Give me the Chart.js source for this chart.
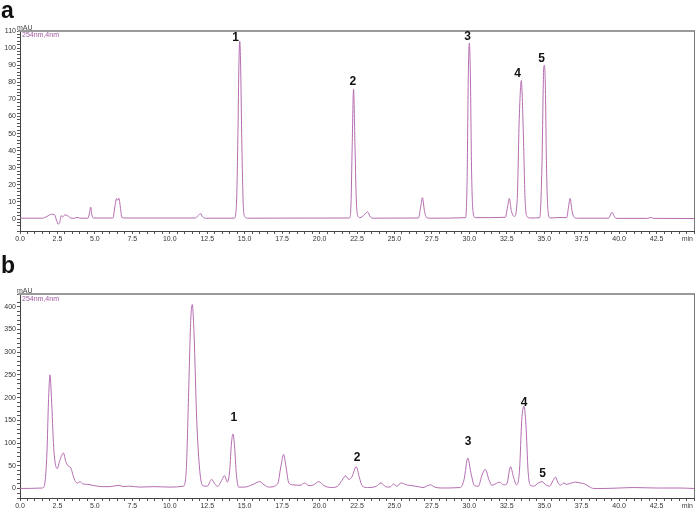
<!DOCTYPE html>
<html lang="en">
<head>
<meta charset="UTF-8">
<title>HPLC chromatograms</title>
<script src="https://cdn.jsdelivr.net/npm/chart.js"></script>
<style>
  body { margin: 0; background: #fff; }
  .panel { position: absolute; left: 0; }
</style>
</head>
<body>
<div class="panel" style="top:0"><canvas id="chartA" width="696" height="250"></canvas></div>
<div class="panel" style="top:250px"><canvas id="chartB" width="696" height="258"></canvas></div>

<script>
// panel a : standards (min, mAU)
const timeA = [0.0, 1.5, 1.8, 2.1, 2.3, 2.45, 2.55, 2.65, 2.75, 2.85, 3.0, 3.2, 3.4, 3.6, 3.8, 4.0,
  4.55, 4.65, 4.72, 4.8, 4.9, 6.2, 6.35, 6.45, 6.52, 6.6, 6.7, 6.8, 7.0,
  11.7, 11.9, 12.05, 12.2, 12.4,
  14.3, 14.45, 14.55, 14.62, 14.67, 14.73, 14.8, 14.9, 15.0, 15.2,
  22.0, 22.1, 22.18, 22.27, 22.36, 22.45, 22.55, 22.7, 23.0, 23.2, 23.4, 23.6,
  26.6, 26.75, 26.87, 27.0, 27.15, 27.4,
  29.75, 29.85, 29.93, 30.0, 30.07, 30.15, 30.25, 30.4,
  32.4, 32.55, 32.67, 32.8, 33.0, 33.2, 33.33, 33.47, 33.6, 33.72, 33.85, 34.1,
  34.7, 34.85, 34.95, 35.0, 35.07, 35.15, 35.25, 35.4, 35.95, 36.5, 36.62, 36.73, 36.85, 37.0, 37.2,
  39.3, 39.45, 39.53, 39.65, 39.8, 41.9, 42.1, 42.3, 45.0];
const absA = [0.5, 0.5, 1.5, 2.8, 2.5, -1, -3, -2, 2, 1.2, 2.5, 1.8, 0.5, 0.4, 1.0, 0.5,
  0.5, 4, 7, 2.5, 0.6, 0.6, 8, 12, 11, 12.2, 7, 1, 0.6,
  0.6, 2, 3.2, 1.2, 0.5,
  0.5, 8, 50, 92, 104, 90, 50, 10, 1.5, 0.5,
  0.6, 9, 43, 76, 45, 12, 2, 0.8, 2.5, 4.2, 1.2, 0.5,
  0.6, 7, 12.5, 5, 0.8, 0.5,
  0.8, 22, 83, 103, 84, 28, 4, 0.8,
  1, 7, 12, 5, 1.5, 12, 58, 81, 52, 12, 1.5, 0.6,
  0.8, 32, 84, 90, 80, 32, 5, 0.6, 0.9, 0.8, 7, 12, 5, 1, 0.5,
  0.5, 3, 4, 2, 0.4, 0.4, 0.9, 0.4, 0.3];

// panel b : sample
const timeB = [0.0, 1.5, 1.65, 1.8, 1.9, 2.0, 2.1, 2.25, 2.4, 2.5, 2.6, 2.75, 2.9, 3.05, 3.2, 3.4, 3.55, 3.7, 3.85, 4.0,
  4.2, 4.5, 5.0, 5.5, 6.0, 6.6, 6.9, 7.3, 8.0, 9.0, 10.0, 10.9,
  11.1, 11.25, 11.4, 11.5, 11.62, 11.8, 12.0, 12.2, 12.5, 12.8, 13.0, 13.2, 13.5, 13.65, 13.85,
  14.0, 14.12, 14.22, 14.32, 14.45, 14.6, 15.0, 15.5, 16.0, 16.3, 16.6,
  17.2, 17.4, 17.6, 17.75, 17.95, 18.2, 18.7, 19.0, 19.3, 19.6, 19.95, 20.3, 20.8,
  21.2, 21.5, 21.75, 21.95, 22.15, 22.45, 22.65, 22.85, 23.2, 23.8, 24.1, 24.4, 24.7, 24.95, 25.15, 25.45,
  25.8, 26.2, 26.6, 26.9, 27.4, 27.7, 28.1, 29.4, 29.65, 29.9, 30.1, 30.35, 30.6, 30.85, 31.07, 31.3, 31.5,
  31.8, 32.0, 32.3, 32.5, 32.75, 32.95, 33.15, 33.35, 33.5, 33.65, 33.78, 33.92, 34.05, 34.3, 34.6, 34.85,
  35.1, 35.35, 35.6, 35.75, 35.9, 36.1, 36.3, 36.5, 36.8, 37.1, 37.4, 37.7, 38.0, 38.3, 39.0, 40.0, 41.0, 42.5, 44.0, 45.0];
const absB = [0, 1, 10, 80, 190, 250, 200, 90, 48, 44, 55, 70, 78, 60, 50, 45, 28, 15, 12, 15,
  10, 9, 6, 4, 4, 7, 4, 5, 3, 4, 3, 5,
  40, 200, 370, 405, 340, 150, 40, 6, 5, 20, 10, 5, 20, 28, 14,
  40, 100, 120, 95, 30, 3, 3, 8, 15, 8, 3,
  10, 45, 75, 50, 12, 8, 7, 12, 6, 8, 15, 6, 2,
  5, 18, 28, 20, 25, 48, 25, 6, 2, 5, 12, 4, 3, 10, 5, 12,
  8, 6, 4, 2, 8, 3, 1, 2, 20, 67, 35, 6, 5, 30, 42, 20, 7,
  11, 14, 8, 10, 48, 25, 8, 40, 150, 181, 140, 40, 8, 5, 12, 15,
  8, 5, 18, 25, 14, 7, 12, 9, 12, 14, 12, 10, 4, 0, 0, 1, 2, 1, 1, 0];

// peak numbers (position of the label, data units)
const peakNames = ['1', '2', '3', '4', '5'];
const labelTimeA = [14.4, 22.22, 29.89, 33.22, 34.82];
const labelAbsA = [106.1, 80.3, 106.7, 85.3, 94.0];
const labelTimeB = [14.27, 22.51, 29.91, 33.65, 34.89];
const labelAbsB = [155.5, 68.7, 102, 189, 31.5];

const FONT = "'Liberation Sans', Arial, sans-serif";
const LINE = '#b46cb0';

// frame, units and annotations drawn on top of the chart
const decor = {
  id: 'decor',
  afterDraw(chart, args, o) {
    const { ctx, chartArea: a, scales } = chart;
    ctx.save();
    ctx.strokeStyle = '#9a9a9a';
    ctx.lineWidth = 2;
    ctx.beginPath(); ctx.moveTo(a.left - 2, a.top); ctx.lineTo(a.right + 1, a.top); ctx.stroke();
    ctx.strokeStyle = '#777';
    ctx.lineWidth = 1;
    ctx.beginPath(); ctx.moveTo(a.right + 0.5, a.top); ctx.lineTo(a.right + 0.5, a.bottom); ctx.stroke();

    ctx.font = '7px ' + FONT;
    ctx.textBaseline = 'middle';
    ctx.fillStyle = '#444';
    ctx.textAlign = 'left';
    ctx.fillText('mAU', 17, a.top - 3);
    ctx.textAlign = 'right';
    ctx.fillText('min', a.right - 1, a.bottom + 8);
    ctx.textAlign = 'left';
    ctx.fillStyle = '#a05aa0';
    ctx.fillText('254nm,4nm', a.left + 2, a.top + o.subY);

    ctx.fillStyle = '#111';
    ctx.font = 'bold 12px ' + FONT;
    ctx.textAlign = 'center';
    o.times.forEach((t, i) => {
      ctx.fillText(peakNames[i], scales.x.getPixelForValue(t), scales.y.getPixelForValue(o.values[i]));
    });

    ctx.font = 'bold 23px ' + FONT;
    ctx.textAlign = 'left';
    ctx.textBaseline = 'alphabetic';
    ctx.fillText(o.letter, 1, o.letterY);
    ctx.restore();
  }
};

function makeChart(id, times, values, cfg) {
  const ctx = document.getElementById(id).getContext('2d');
  return new Chart(ctx, {
    type: 'line',
    data: {
      datasets: [{
        data: times.map((t, i) => ({ x: t, y: values[i] })),
        borderColor: LINE,
        borderWidth: 1,
        pointRadius: 0,
        cubicInterpolationMode: 'monotone',
        fill: false
      }]
    },
    options: {
      responsive: false,
      animation: false,
      events: [],
      layout: { padding: { top: cfg.top, right: 2, left: 0, bottom: 0 } },
      plugins: {
        legend: { display: false },
        tooltip: { enabled: false },
        decor: cfg.decor
      },
      scales: {
        x: {
          type: 'linear',
          min: 0, max: 45,
          afterFit: s => { s.height = cfg.xHeight; },
          border: { color: '#444', width: 1 },
          grid: { drawOnChartArea: false, tickLength: 3, color: '#555' },
          ticks: {
            stepSize: 0.5,
            autoSkip: false,
            maxRotation: 0,
            padding: 1,
            color: '#333',
            font: { family: FONT, size: 7 },
            callback: v => {
              const k = v / 2.5;
              return (Math.abs(k - Math.round(k)) < 1e-6 && v < 45) ? v.toFixed(1) : '';
            }
          }
        },
        y: {
          min: cfg.yMin, max: cfg.yMax,
          afterFit: s => { s.width = 20; },
          border: { color: '#444', width: 1 },
          grid: { drawOnChartArea: false, tickLength: 3, color: '#555' },
          ticks: {
            stepSize: cfg.yMinor,
            autoSkip: false,
            padding: 1,
            color: '#333',
            font: { family: FONT, size: 7 },
            callback: v => (Math.round(v) % cfg.yMajor === 0 && v >= 0) ? Math.round(v) : ''
          }
        }
      }
    },
    plugins: [decor]
  });
}

makeChart('chartA', timeA, absA, {
  top: 31, xHeight: 19, yMin: -7, yMax: 110, yMinor: 2, yMajor: 10,
  decor: { letter: 'a', letterY: 18, subY: 4, times: labelTimeA, values: labelAbsA }
});
makeChart('chartB', timeB, absB, {
  top: 44, xHeight: 10, yMin: -21, yMax: 428, yMinor: 10, yMajor: 50,
  decor: { letter: 'b', letterY: 23, subY: 5, times: labelTimeB, values: labelAbsB }
});
</script>
</body>
</html>
